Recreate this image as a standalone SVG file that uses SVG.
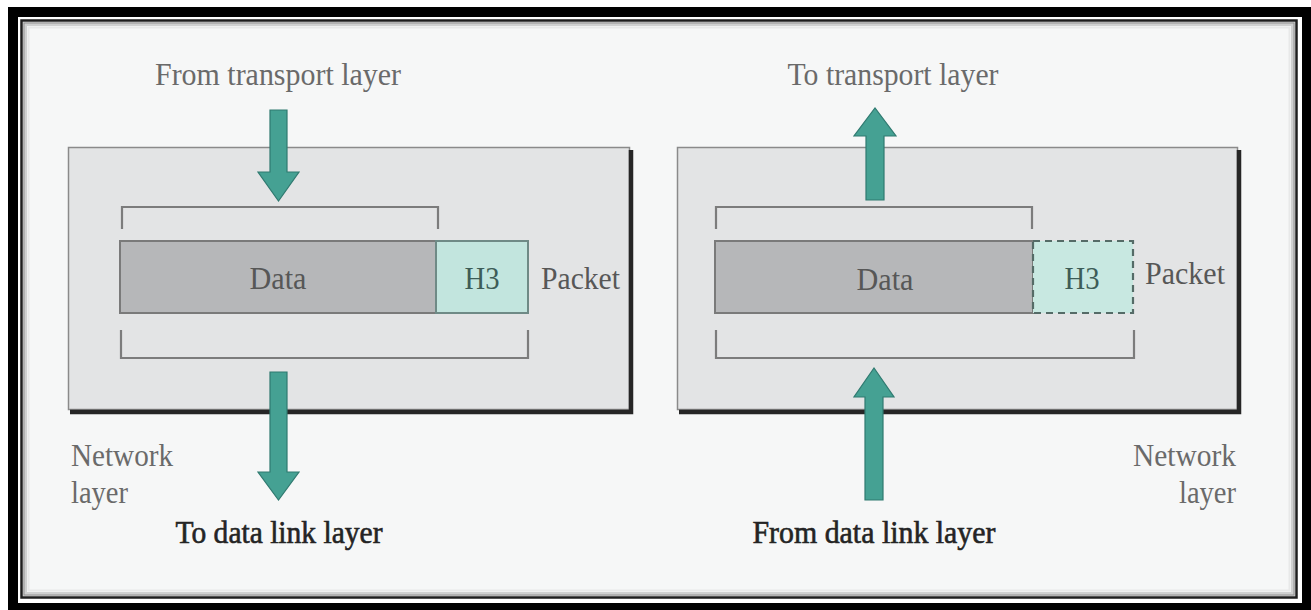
<svg xmlns="http://www.w3.org/2000/svg" width="1311" height="610" viewBox="0 0 1311 610">
  <style>
    .lbl { font-family: "Liberation Serif", "Times New Roman", serif; font-size: 31px; }
    .top { fill: #6a6a6a; }
    .bot { fill: #242424; stroke: #242424; stroke-width: 0.6; }
    .mid { fill: #575757; }
    .h3t { fill: #3d5c57; }
    .box { fill: #e3e4e5; stroke: #8a8a8a; stroke-width: 1.5; }
    .shadow { fill: none; stroke: #262626; stroke-width: 4.5; }
    .data { fill: #b6b7b9; stroke: #7a7a7a; stroke-width: 2; }
    .h3 { fill: #c2e5de; stroke: #6f8a86; stroke-width: 2; }
    .h3d { fill: #c8e8e1; stroke: #556b67; stroke-width: 2.2; stroke-dasharray: 7 5; }
    .brk { fill: none; stroke: #7c7c7c; stroke-width: 2.2; }
    .arrow { fill: #45a193; stroke: #2f7a70; stroke-width: 1.2; }
  </style>

  <!-- frame -->
  <g id="frame">
    <rect x="8" y="7" width="1303" height="603" fill="#000"/>
    <rect x="18" y="17" width="1284" height="586" fill="#fff"/>
    <rect x="21.5" y="20.5" width="1275" height="577" fill="#f6f7f7" stroke="#1e1e1e" stroke-width="2.5"/>
    <rect x="24" y="23" width="1270" height="572" fill="none" stroke="#9a9a9a" stroke-width="1.5"/>
    <rect x="26" y="25" width="1266" height="568" fill="none" stroke="#cfd0d0" stroke-width="2"/>
    <rect x="28.5" y="27.5" width="1261" height="563" fill="none" stroke="#e8e9e9" stroke-width="2"/>
  </g>

  <!-- left: sender -->
  <g id="left-network-layer">
    <rect class="box" x="68.5" y="147.5" width="561" height="262"/>
    <path class="shadow" d="M631 150 V412 H70"/>
  </g>
  <g id="left-packet">
    <rect class="data" x="120" y="241" width="316" height="72"/>
    <rect class="h3" x="436" y="241" width="92" height="72"/>
    <text class="lbl mid" x="278" y="289" text-anchor="middle" textLength="57" lengthAdjust="spacingAndGlyphs">Data</text>
    <text class="lbl h3t" x="482" y="289" text-anchor="middle" textLength="35" lengthAdjust="spacingAndGlyphs">H3</text>
    <text class="lbl mid" x="541" y="289" textLength="79" lengthAdjust="spacingAndGlyphs">Packet</text>
  </g>
  <g id="left-brackets">
    <path class="brk" d="M122 229 V207 H438 V229"/>
    <path class="brk" d="M121 330 V358 H528 V330"/>
  </g>
  <g id="left-labels">
    <text class="lbl top" x="278" y="85" text-anchor="middle" textLength="246" lengthAdjust="spacingAndGlyphs">From transport layer</text>
    <text class="lbl top" x="71" y="466" textLength="102" lengthAdjust="spacingAndGlyphs">Network</text>
    <text class="lbl top" x="71" y="503" textLength="57" lengthAdjust="spacingAndGlyphs">layer</text>
    <text class="lbl bot" x="279" y="543" text-anchor="middle" textLength="207" lengthAdjust="spacingAndGlyphs">To data link layer</text>
  </g>

  <!-- right: receiver -->
  <g id="right-network-layer">
    <rect class="box" x="677.5" y="147.5" width="560" height="262"/>
    <path class="shadow" d="M1239 150 V412 H679"/>
  </g>
  <g id="right-packet">
    <rect class="data" x="715" y="241" width="318" height="72"/>
    <rect class="h3d" x="1033" y="241" width="100" height="72"/>
    <text class="lbl mid" x="885" y="290" text-anchor="middle" textLength="57" lengthAdjust="spacingAndGlyphs">Data</text>
    <text class="lbl h3t" x="1082" y="289" text-anchor="middle" textLength="35" lengthAdjust="spacingAndGlyphs">H3</text>
    <text class="lbl mid" x="1145" y="284" textLength="80" lengthAdjust="spacingAndGlyphs">Packet</text>
  </g>
  <g id="right-brackets">
    <path class="brk" d="M716 229 V207 H1032 V229"/>
    <path class="brk" d="M716 330 V358 H1134 V330"/>
  </g>
  <g id="right-labels">
    <text class="lbl top" x="893" y="85" text-anchor="middle" textLength="211" lengthAdjust="spacingAndGlyphs">To transport layer</text>
    <text class="lbl top" x="1236" y="466" text-anchor="end" textLength="103" lengthAdjust="spacingAndGlyphs">Network</text>
    <text class="lbl top" x="1236" y="503" text-anchor="end" textLength="57" lengthAdjust="spacingAndGlyphs">layer</text>
    <text class="lbl bot" x="874" y="543" text-anchor="middle" textLength="243" lengthAdjust="spacingAndGlyphs">From data link layer</text>
  </g>

  <!-- connectors -->
  <g id="connectors">
    <path class="arrow" d="M270 110 H287 V172 H299 L278.5 201 L258 172 H270 Z"/>
    <path class="arrow" d="M270 372 H287 V472 H299 L278.5 500 L258 472 H270 Z"/>
    <path class="arrow" d="M866 200 H884 V136 H896 L875 108 L854 136 H866 Z"/>
    <path class="arrow" d="M865 500 H883 V397 H894 L874 368 L854 397 H865 Z"/>
  </g>
</svg>
